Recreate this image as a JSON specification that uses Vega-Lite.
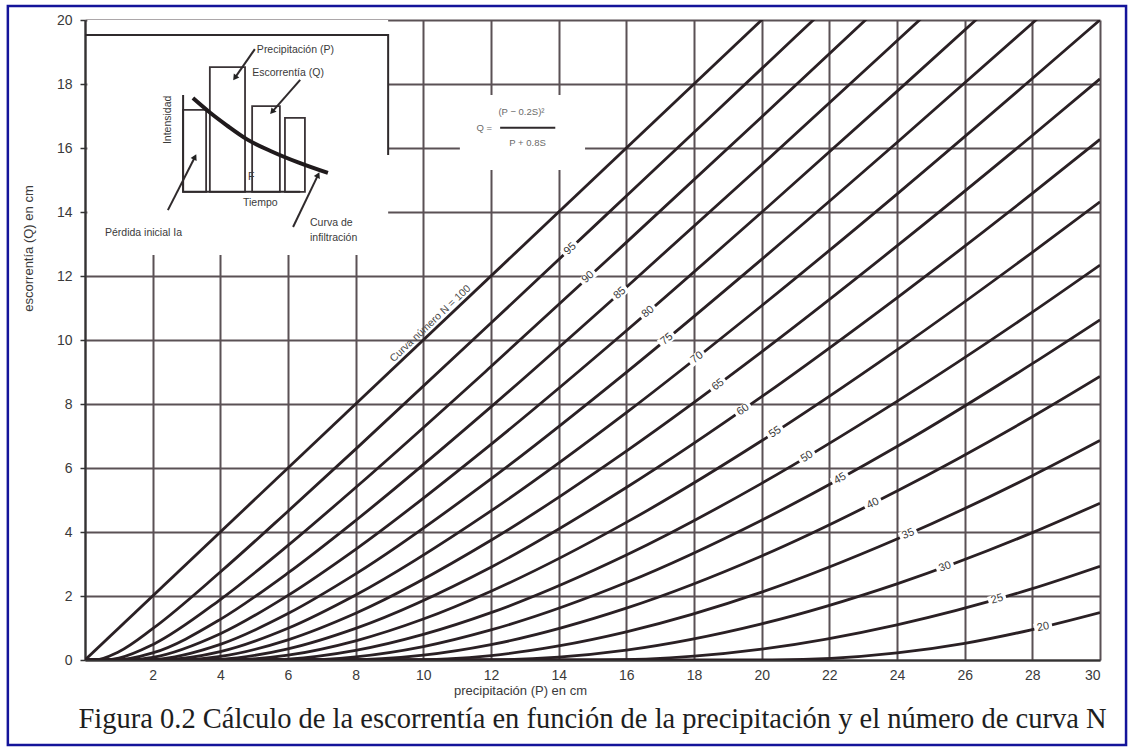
{
  "$schema": "https://vega.github.io/schema/vega-lite/v6.json",
  "width": 1015,
  "height": 640,
  "autosize": {"type": "none"},
  "padding": {"left": 85, "top": 20, "right": 31, "bottom": 89},
  "background": "#ffffff",
  "config": {"view": {"stroke": null}, "font": "Liberation Sans"},
  "title": {
    "text": "Figura 0.2 Cálculo de la escorrentía en función de la precipitación y el número de curva N",
    "orient": "bottom", "anchor": "middle", "font": "Liberation Serif", "fontSize": 28.5,
    "fontWeight": "normal", "color": "#1e1e1e", "offset": -41
  },
  "datasets": {
    "curves": [
      {"N": 100, "P": 0, "Q": 0}, {"N": 100, "P": 21, "Q": 21},
      {"N": 95, "P": 0, "Q": 0}, {"N": 95, "P": 0.27, "Q": 0}, {"N": 95, "P": 1, "Q": 0.26}, {"N": 95, "P": 2, "Q": 0.98}, {"N": 95, "P": 4, "Q": 2.75}, {"N": 95, "P": 6, "Q": 4.65}, {"N": 95, "P": 8, "Q": 6.59}, {"N": 95, "P": 12, "Q": 10.53}, {"N": 95, "P": 16, "Q": 14.5}, {"N": 95, "P": 20, "Q": 18.48}, {"N": 95, "P": 22, "Q": 20.47},
      {"N": 90, "P": 0, "Q": 0}, {"N": 90, "P": 0.56, "Q": 0}, {"N": 90, "P": 1, "Q": 0.06}, {"N": 90, "P": 2, "Q": 0.48}, {"N": 90, "P": 4, "Q": 1.89}, {"N": 90, "P": 6, "Q": 3.58}, {"N": 90, "P": 8, "Q": 5.39}, {"N": 90, "P": 12, "Q": 9.17}, {"N": 90, "P": 16, "Q": 13.05}, {"N": 90, "P": 20, "Q": 16.97}, {"N": 90, "P": 24, "Q": 20.92},
      {"N": 85, "P": 0, "Q": 0}, {"N": 85, "P": 0.9, "Q": 0}, {"N": 85, "P": 2, "Q": 0.22}, {"N": 85, "P": 4, "Q": 1.27}, {"N": 85, "P": 6, "Q": 2.72}, {"N": 85, "P": 8, "Q": 4.36}, {"N": 85, "P": 12, "Q": 7.91}, {"N": 85, "P": 16, "Q": 11.65}, {"N": 85, "P": 20, "Q": 15.47}, {"N": 85, "P": 24, "Q": 19.35}, {"N": 85, "P": 26, "Q": 21.3},
      {"N": 80, "P": 0, "Q": 0}, {"N": 80, "P": 1.27, "Q": 0}, {"N": 80, "P": 2, "Q": 0.08}, {"N": 80, "P": 4, "Q": 0.82}, {"N": 80, "P": 6, "Q": 2.02}, {"N": 80, "P": 8, "Q": 3.46}, {"N": 80, "P": 12, "Q": 6.74}, {"N": 80, "P": 16, "Q": 10.29}, {"N": 80, "P": 20, "Q": 13.99}, {"N": 80, "P": 24, "Q": 17.77}, {"N": 80, "P": 28, "Q": 21.6},
      {"N": 75, "P": 0, "Q": 0}, {"N": 75, "P": 1.69, "Q": 0}, {"N": 75, "P": 2, "Q": 0.01}, {"N": 75, "P": 4, "Q": 0.49}, {"N": 75, "P": 6, "Q": 1.45}, {"N": 75, "P": 8, "Q": 2.69}, {"N": 75, "P": 12, "Q": 5.66}, {"N": 75, "P": 16, "Q": 8.99}, {"N": 75, "P": 20, "Q": 12.52}, {"N": 75, "P": 24, "Q": 16.17}, {"N": 75, "P": 28, "Q": 19.9}, {"N": 75, "P": 30, "Q": 21.79},
      {"N": 70, "P": 0, "Q": 0}, {"N": 70, "P": 2.18, "Q": 0}, {"N": 70, "P": 4, "Q": 0.26}, {"N": 70, "P": 6, "Q": 0.99}, {"N": 70, "P": 8, "Q": 2.03}, {"N": 70, "P": 12, "Q": 4.66}, {"N": 70, "P": 16, "Q": 7.73}, {"N": 70, "P": 20, "Q": 11.07}, {"N": 70, "P": 24, "Q": 14.56}, {"N": 70, "P": 28, "Q": 18.17}, {"N": 70, "P": 30, "Q": 20.0},
      {"N": 65, "P": 0, "Q": 0}, {"N": 65, "P": 2.74, "Q": 0}, {"N": 65, "P": 4, "Q": 0.11}, {"N": 65, "P": 6, "Q": 0.63}, {"N": 65, "P": 8, "Q": 1.46}, {"N": 65, "P": 12, "Q": 3.74}, {"N": 65, "P": 16, "Q": 6.53}, {"N": 65, "P": 20, "Q": 9.63}, {"N": 65, "P": 24, "Q": 12.94}, {"N": 65, "P": 28, "Q": 16.39}, {"N": 65, "P": 30, "Q": 18.16},
      {"N": 60, "P": 0, "Q": 0}, {"N": 60, "P": 3.39, "Q": 0}, {"N": 60, "P": 4, "Q": 0.02}, {"N": 60, "P": 6, "Q": 0.35}, {"N": 60, "P": 8, "Q": 0.99}, {"N": 60, "P": 12, "Q": 2.9}, {"N": 60, "P": 16, "Q": 5.39}, {"N": 60, "P": 20, "Q": 8.23}, {"N": 60, "P": 24, "Q": 11.32}, {"N": 60, "P": 28, "Q": 14.58}, {"N": 60, "P": 30, "Q": 16.27},
      {"N": 55, "P": 0, "Q": 0}, {"N": 55, "P": 4.16, "Q": 0}, {"N": 55, "P": 6, "Q": 0.15}, {"N": 55, "P": 8, "Q": 0.6}, {"N": 55, "P": 10, "Q": 1.28}, {"N": 55, "P": 12, "Q": 2.15}, {"N": 55, "P": 16, "Q": 4.3}, {"N": 55, "P": 20, "Q": 6.85}, {"N": 55, "P": 24, "Q": 9.69}, {"N": 55, "P": 28, "Q": 12.74}, {"N": 55, "P": 30, "Q": 14.32},
      {"N": 50, "P": 0, "Q": 0}, {"N": 50, "P": 5.08, "Q": 0}, {"N": 50, "P": 6, "Q": 0.03}, {"N": 50, "P": 8, "Q": 0.3}, {"N": 50, "P": 10, "Q": 0.8}, {"N": 50, "P": 12, "Q": 1.48}, {"N": 50, "P": 16, "Q": 3.28}, {"N": 50, "P": 20, "Q": 5.52}, {"N": 50, "P": 24, "Q": 8.08}, {"N": 50, "P": 28, "Q": 10.87}, {"N": 50, "P": 30, "Q": 12.34},
      {"N": 45, "P": 0, "Q": 0}, {"N": 45, "P": 6.21, "Q": 0}, {"N": 45, "P": 8, "Q": 0.1}, {"N": 45, "P": 10, "Q": 0.42}, {"N": 45, "P": 12, "Q": 0.94}, {"N": 45, "P": 16, "Q": 2.42}, {"N": 45, "P": 20, "Q": 4.37}, {"N": 45, "P": 24, "Q": 6.67}, {"N": 45, "P": 28, "Q": 9.26}, {"N": 45, "P": 30, "Q": 10.63},
      {"N": 40, "P": 0, "Q": 0}, {"N": 40, "P": 7.62, "Q": 0}, {"N": 40, "P": 10, "Q": 0.15}, {"N": 40, "P": 12, "Q": 0.48}, {"N": 40, "P": 16, "Q": 1.62}, {"N": 40, "P": 20, "Q": 3.25}, {"N": 40, "P": 24, "Q": 5.28}, {"N": 40, "P": 28, "Q": 7.6}, {"N": 40, "P": 30, "Q": 8.86},
      {"N": 35, "P": 0, "Q": 0}, {"N": 35, "P": 9.43, "Q": 0}, {"N": 35, "P": 12, "Q": 0.14}, {"N": 35, "P": 14, "Q": 0.44}, {"N": 35, "P": 16, "Q": 0.88}, {"N": 35, "P": 20, "Q": 2.12}, {"N": 35, "P": 24, "Q": 3.78}, {"N": 35, "P": 28, "Q": 5.76}, {"N": 35, "P": 30, "Q": 6.86},
      {"N": 30, "P": 0, "Q": 0}, {"N": 30, "P": 11.85, "Q": 0}, {"N": 30, "P": 14, "Q": 0.09}, {"N": 30, "P": 16, "Q": 0.31}, {"N": 30, "P": 20, "Q": 1.13}, {"N": 30, "P": 24, "Q": 2.38}, {"N": 30, "P": 28, "Q": 3.98}, {"N": 30, "P": 30, "Q": 4.9},
      {"N": 25, "P": 0, "Q": 0}, {"N": 25, "P": 15.24, "Q": 0}, {"N": 25, "P": 18, "Q": 0.12}, {"N": 25, "P": 20, "Q": 0.34}, {"N": 25, "P": 24, "Q": 1.1}, {"N": 25, "P": 28, "Q": 2.23}, {"N": 25, "P": 30, "Q": 2.93},
      {"N": 20, "P": 0, "Q": 0}, {"N": 20, "P": 20.32, "Q": 0}, {"N": 20, "P": 24, "Q": 0.22}, {"N": 20, "P": 26, "Q": 0.52}, {"N": 20, "P": 28, "Q": 0.95}, {"N": 20, "P": 30, "Q": 1.48}
    ],
    "labels": [
      {"N": 95, "P": 14.34, "Q": 12.85}, {"N": 90, "P": 14.87, "Q": 11.96}, {"N": 85, "P": 15.81, "Q": 11.46},
      {"N": 80, "P": 16.64, "Q": 10.88}, {"N": 75, "P": 17.2, "Q": 10.03}, {"N": 70, "P": 18.09, "Q": 9.45},
      {"N": 65, "P": 18.71, "Q": 8.6}, {"N": 60, "P": 19.45, "Q": 7.82}, {"N": 55, "P": 20.4, "Q": 7.12},
      {"N": 50, "P": 21.34, "Q": 6.35}, {"N": 45, "P": 22.32, "Q": 5.67}, {"N": 40, "P": 23.29, "Q": 4.89},
      {"N": 35, "P": 24.33, "Q": 3.94}, {"N": 30, "P": 25.42, "Q": 2.91}, {"N": 25, "P": 26.96, "Q": 1.9},
      {"N": 20, "P": 28.32, "Q": 1.03}
    ],
    "boxes": [
      {"x1": 0.07, "x2": 8.96, "y1": 12.66, "y2": 20},
      {"x1": 11.08, "x2": 14.78, "y1": 15.31, "y2": 17.66}
    ],
    "frame": [
      {"x1": -2.28, "x2": 30.77, "y1": -2.66, "y2": 20.44}
    ],
    "sketch": [
      {"g": "marco", "k": 1, "x": 0, "y": 19.53}, {"g": "marco", "k": 2, "x": 8.96, "y": 19.53}, {"g": "marco", "k": 3, "x": 8.96, "y": 15.78},
      {"g": "ejes", "k": 1, "x": 2.9, "y": 17.66}, {"g": "ejes", "k": 2, "x": 2.9, "y": 14.63}, {"g": "ejes", "k": 3, "x": 6.36, "y": 14.63},
      {"g": "f1", "k": 1, "x": 5.02, "y": 19.09}, {"g": "f1", "k": 2, "x": 4.43, "y": 18.19},
      {"g": "f2", "k": 1, "x": 6.36, "y": 18.13}, {"g": "f2", "k": 2, "x": 5.53, "y": 17.13},
      {"g": "f3", "k": 1, "x": 2.45, "y": 14.06}, {"g": "f3", "k": 2, "x": 3.25, "y": 15.72},
      {"g": "f4", "k": 1, "x": 6.15, "y": 13.53}, {"g": "f4", "k": 2, "x": 6.89, "y": 15.16},
      {"g": "frac", "k": 1, "x": 12.27, "y": 16.63}, {"g": "frac", "k": 2, "x": 13.9, "y": 16.63}
    ],
    "bars": [
      {"x1": 2.9, "x2": 3.58, "base": 14.63, "top": 17.19},
      {"x1": 3.69, "x2": 4.73, "base": 14.63, "top": 18.53},
      {"x1": 4.94, "x2": 5.76, "base": 14.63, "top": 17.31},
      {"x1": 5.91, "x2": 6.5, "base": 14.63, "top": 16.94}
    ],
    "infil": [
      {"x": 3.19, "y": 17.56}, {"x": 3.7, "y": 17.1}, {"x": 4.2, "y": 16.7}, {"x": 4.79, "y": 16.27},
      {"x": 5.5, "y": 15.9}, {"x": 6.3, "y": 15.55}, {"x": 7.18, "y": 15.22}
    ],
    "heads": [
      {"h": "a", "x": 4.43, "y": 18.19},
      {"h": "b", "x": 5.53, "y": 17.13},
      {"h": "c", "x": 3.25, "y": 15.72},
      {"h": "d", "x": 6.89, "y": 15.16}
    ],
    "sketchText": [
      {"t": "Precipitación (P)", "x": 5.08, "y": 19.06},
      {"t": "Escorrentía (Q)", "x": 4.94, "y": 18.34},
      {"t": "F", "x": 4.82, "y": 15.1},
      {"t": "Tiempo", "x": 4.67, "y": 14.28},
      {"t": "Pérdida inicial Ia", "x": 0.59, "y": 13.34},
      {"t": "Curva de", "x": 6.65, "y": 13.66},
      {"t": "infiltración", "x": 6.65, "y": 13.19}
    ],
    "formula": [
      {"t": "(P − 0.2S)²", "x": 12.9, "y": 17.13},
      {"t": "Q =", "x": 11.8, "y": 16.63},
      {"t": "P + 0.8S", "x": 13.08, "y": 16.16}
    ]
  },
  "layer": [
    {
      "data": {"name": "curves"},
      "mark": {"type": "line", "interpolate": "monotone", "clip": true, "color": "#2a2024", "strokeWidth": 2.8},
      "encoding": {
        "x": {
          "field": "P", "type": "quantitative",
          "scale": {"domain": [0, 30], "nice": false, "zero": false},
          "axis": {
            "title": "precipitación (P) en cm",
            "values": [0,1,2,3,4,5,6,7,8,9,10,11,12,13,14,15,16,17,18,19,20,21,22,23,24,25,26,27,28,29,30],
            "labelExpr": "datum.value % 2 == 0 && datum.value > 0 ? datum.label : ''",
            "grid": true, "gridColor": "#5a5155", "gridWidth": 2,
            "ticks": false, "domainColor": "#333333", "domainWidth": 2,
            "labelFontSize": 14, "labelColor": "#3a3a3a", "labelPadding": 8,
            "titleFontSize": 13, "titleFontWeight": "normal", "titleColor": "#3a3a3a",
            "titleX": 435, "titleY": 24, "titleBaseline": "top"
          }
        },
        "y": {
          "field": "Q", "type": "quantitative",
          "scale": {"domain": [0, 20], "nice": false, "zero": false},
          "axis": {
            "title": "escorrentía (Q) en cm",
            "values": [0,1,2,3,4,5,6,7,8,9,10,11,12,13,14,15,16,17,18,19,20],
            "labelExpr": "datum.value % 2 == 0 ? datum.label : ''",
            "grid": true, "gridColor": "#5a5155", "gridWidth": 2,
            "ticks": true, "tickSize": 5, "tickColor": "#333333", "tickWidth": 1.5,
            "domainColor": "#333333", "domainWidth": 2,
            "labelFontSize": 14, "labelColor": "#3a3a3a", "labelPadding": 8,
            "titleFontSize": 13, "titleFontWeight": "normal", "titleColor": "#3a3a3a",
            "titleX": -50, "titleY": 228
          }
        },
        "detail": {"field": "N", "type": "nominal"}
      }
    },
    {
      "data": {"name": "boxes"},
      "mark": {"type": "rect", "fill": "#ffffff"},
      "encoding": {
        "x": {"field": "x1", "type": "quantitative"},
        "x2": {"field": "x2"},
        "y": {"field": "y1", "type": "quantitative"},
        "y2": {"field": "y2"}
      }
    },
    {
      "data": {"name": "bars"},
      "mark": {"type": "rect", "fillOpacity": 0, "stroke": "#3a3336", "strokeWidth": 1.8},
      "encoding": {
        "x": {"field": "x1", "type": "quantitative"},
        "x2": {"field": "x2"},
        "y": {"field": "base", "type": "quantitative"},
        "y2": {"field": "top"}
      }
    },
    {
      "data": {"name": "sketch"},
      "mark": {"type": "line", "color": "#2f2a2c", "strokeWidth": 2},
      "encoding": {
        "x": {"field": "x", "type": "quantitative"},
        "y": {"field": "y", "type": "quantitative"},
        "detail": {"field": "g", "type": "nominal"},
        "order": {"field": "k", "type": "quantitative"}
      }
    },
    {
      "data": {"name": "infil"},
      "mark": {"type": "line", "interpolate": "monotone", "color": "#1f1a1c", "strokeWidth": 4},
      "encoding": {
        "x": {"field": "x", "type": "quantitative"},
        "y": {"field": "y", "type": "quantitative"}
      }
    },
    {
      "data": {"name": "heads"},
      "transform": [{"filter": "datum.h == 'a'"}],
      "mark": {"type": "point", "shape": "triangle-up", "filled": true, "color": "#222222", "opacity": 1, "size": 45, "angle": 215},
      "encoding": {"x": {"field": "x", "type": "quantitative"}, "y": {"field": "y", "type": "quantitative"}}
    },
    {
      "data": {"name": "heads"},
      "transform": [{"filter": "datum.h == 'b'"}],
      "mark": {"type": "point", "shape": "triangle-up", "filled": true, "color": "#222222", "opacity": 1, "size": 45, "angle": 221},
      "encoding": {"x": {"field": "x", "type": "quantitative"}, "y": {"field": "y", "type": "quantitative"}}
    },
    {
      "data": {"name": "heads"},
      "transform": [{"filter": "datum.h == 'c'"}],
      "mark": {"type": "point", "shape": "triangle-up", "filled": true, "color": "#222222", "opacity": 1, "size": 45, "angle": 27},
      "encoding": {"x": {"field": "x", "type": "quantitative"}, "y": {"field": "y", "type": "quantitative"}}
    },
    {
      "data": {"name": "heads"},
      "transform": [{"filter": "datum.h == 'd'"}],
      "mark": {"type": "point", "shape": "triangle-up", "filled": true, "color": "#222222", "opacity": 1, "size": 45, "angle": 26},
      "encoding": {"x": {"field": "x", "type": "quantitative"}, "y": {"field": "y", "type": "quantitative"}}
    },
    {
      "data": {"name": "sketchText"},
      "mark": {"type": "text", "align": "left", "baseline": "middle", "fontSize": 10.5, "color": "#3a3a3a"},
      "encoding": {
        "x": {"field": "x", "type": "quantitative"},
        "y": {"field": "y", "type": "quantitative"},
        "text": {"field": "t", "type": "nominal"}
      }
    },
    {
      "data": {"values": [{"t": "Intensidad", "x": 2.45, "y": 16.88}]},
      "mark": {"type": "text", "align": "center", "baseline": "middle", "fontSize": 10.5, "color": "#3a3a3a", "angle": 270},
      "encoding": {
        "x": {"field": "x", "type": "quantitative"},
        "y": {"field": "y", "type": "quantitative"},
        "text": {"field": "t", "type": "nominal"}
      }
    },
    {
      "data": {"name": "formula"},
      "mark": {"type": "text", "align": "center", "baseline": "middle", "fontSize": 9.5, "color": "#6a6a6a"},
      "encoding": {
        "x": {"field": "x", "type": "quantitative"},
        "y": {"field": "y", "type": "quantitative"},
        "text": {"field": "t", "type": "nominal"}
      }
    },
    {
      "data": {"values": [{"t": "Curva número N = 100", "P": 10.35, "Q": 10.35}]},
      "mark": {"type": "text", "align": "center", "baseline": "bottom", "fontSize": 10.5, "color": "#4a4a4a", "angle": -43.4, "dy": -2},
      "encoding": {
        "x": {"field": "P", "type": "quantitative"},
        "y": {"field": "Q", "type": "quantitative"},
        "text": {"field": "t", "type": "nominal"}
      }
    },
    {
      "data": {"name": "labels"},
      "mark": {"type": "point", "shape": "M-1,-0.55H1V0.55H-1Z", "filled": true, "color": "#ffffff", "opacity": 1, "size": 330},
      "encoding": {
        "x": {"field": "P", "type": "quantitative"},
        "y": {"field": "Q", "type": "quantitative"},
        "angle": {"field": "N", "type": "quantitative", "scale": {"domain": [20, 35, 50, 70, 100], "range": [-12, -24, -32, -38, -44]}, "legend": null}
      }
    },
    {
      "data": {"name": "labels"},
      "mark": {"type": "text", "align": "center", "baseline": "middle", "fontSize": 11, "color": "#3a3a3a"},
      "encoding": {
        "x": {"field": "P", "type": "quantitative"},
        "y": {"field": "Q", "type": "quantitative"},
        "text": {"field": "N", "type": "quantitative"},
        "angle": {"field": "N", "type": "quantitative", "scale": {"domain": [20, 35, 50, 70, 100], "range": [-12, -24, -32, -38, -44]}, "legend": null}
      }
    },
    {
      "data": {"name": "frame"},
      "mark": {"type": "rect", "fillOpacity": 0, "stroke": "#14149a", "strokeWidth": 2.5, "clip": false},
      "encoding": {
        "x": {"field": "x1", "type": "quantitative"},
        "x2": {"field": "x2"},
        "y": {"field": "y1", "type": "quantitative"},
        "y2": {"field": "y2"}
      }
    }
  ]
}
